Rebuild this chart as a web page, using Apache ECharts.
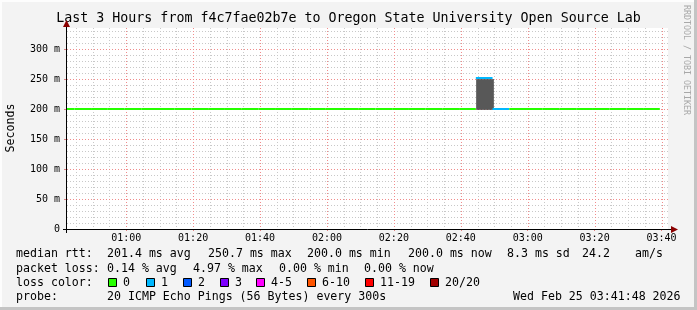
<!DOCTYPE html>
<html><head><meta charset="utf-8">
<script src="https://cdn.jsdelivr.net/npm/echarts@6/dist/echarts.min.js"></script>
<style>html,body{margin:0;padding:0;background:#f3f3f3}#c{width:697px;height:310px}</style>
</head><body><div id="c"></div>
<script>
// ---- data (minutes after midnight; RRD 5-minute steps) ----
const intervalStart = [39.5,44.5,49.5,54.5,59.5,64.5,69.5,74.5,79.5,84.5,89.5,94.5,99.5,104.5,109.5,114.5,119.5,124.5,129.5,134.5,139.5,144.5,149.5,154.5,159.5,164.5,169.5,174.5,179.5,184.5,189.5,194.5,199.5,204.5,209.5,214.5];
const medianMs   = [200,200,200,200,200,200,200,200,200,200,200,200,200,200,200,200,200,200,200,200,200,200,200,200,200,251,200,200,200,200,200,200,200,200,200,200];
const lossCount  = [0,0,0,0,0,0,0,0,0,0,0,0,0,0,0,0,0,0,0,0,0,0,0,0,0,1,1,0,0,0,0,0,0,0,0,0];
const smokeLowMs = [200,200,200,200,200,200,200,200,200,200,200,200,200,200,200,200,200,200,200,200,200,200,200,200,200,200,200,200,200,200,200,200,200,200,200,200];
const smokeHighMs= [200,200,200,200,200,200,200,200,200,200,200,200,200,200,200,200,200,200,200,200,200,200,200,200,200,250,200,200,200,200,200,200,200,200,200,200];
const STEP_MIN = 5;

const xTickMinutes = [60,80,100,120,140,160,180,200,220];
const xTickLabels  = ['01:00','01:20','01:40','02:00','02:20','02:40','03:00','03:20','03:40'];
const xMinorMinutes = [45,50,55,65,70,75,85,90,95,105,110,115,125,130,135,145,150,155,165,170,175,185,190,195,205,210,215];
const yMajorMs = [50,100,150,200,250,300];
const yMinorMs = [10,20,30,40,60,70,80,90,110,120,130,140,160,170,180,190,210,220,230,240,260,270,280,290,310,320,330];
const yTickLabels = {0:'0',50:'50 m',100:'100 m',150:'150 m',200:'200 m',250:'250 m',300:'300 m'};

const lossLegend = ['0','1','2','3','4-5','6-10','11-19','20/20'];
const lossColors = ['#26ff00','#00b8ff','#0059ff','#7e00ff','#ff00ff','#ff5500','#ff0000','#a10000'];
function lossColor(n){ if(n<=0)return lossColors[0]; if(n===1)return lossColors[1]; if(n===2)return lossColors[2]; if(n===3)return lossColors[3]; if(n<=5)return lossColors[4]; if(n<=10)return lossColors[5]; if(n<=19)return lossColors[6]; return lossColors[7]; }

const legendLines = [
  {y:254, parts:[['median rtt:',16],['201.4 ms avg',107],['250.7 ms max',208],['200.0 ms min',307],['200.0 ms now',408],['8.3 ms sd',507],['24.2',582],['am/s',635]]},
  {y:269, parts:[['packet loss:',16],['0.14 % avg',107],['4.97 % max',193],['0.00 % min',279],['0.00 % now',364]]},
  {y:283, parts:[['loss color:',16]]},
  {y:297, parts:[['probe:',16],['20 ICMP Echo Pings (56 Bytes) every 300s',107],['Wed Feb 25 03:41:48 2026',513]]}
];
const lossBoxX = [108,146,183,220,256,307,365,430];

// ---- layout ----
const GL=67, GT=28, GR=668, GB=229;
const FONT='"DejaVu Sans Mono", monospace';
const chart = echarts.init(document.getElementById('c'), null, {renderer:'canvas'});

const graphics = [];
graphics.push({type:'rect',shape:{x:0,y:0,width:697,height:2},style:{fill:'#fdfdfd'},z:-10});
graphics.push({type:'rect',shape:{x:0,y:0,width:2,height:310},style:{fill:'#fdfdfd'},z:-10});
graphics.push({type:'rect',shape:{x:694,y:0,width:3,height:310},style:{fill:'#c4c4c4'},z:-10});
graphics.push({type:'rect',shape:{x:0,y:307,width:697,height:3},style:{fill:'#c4c4c4'},z:-10});
graphics.push({type:'text',x:348.5,y:19,style:{text:'Last 3 Hours from f4c7fae02b7e to Oregon State University Open Source Lab',font:'13.3px '+FONT,fill:'#000',align:'center',verticalAlign:'middle'}});
graphics.push({type:'text',x:11,y:128,rotation:Math.PI/2,style:{text:'Seconds',font:'11.6px '+FONT,fill:'#000',align:'center',verticalAlign:'middle'}});
graphics.push({type:'text',x:686,y:5,rotation:-Math.PI/2,style:{text:'RRDTOOL / TOBI OETIKER',font:'8.3px '+FONT,fill:'#a8a8a8',align:'left',verticalAlign:'middle'}});
graphics.push({type:'line',shape:{x1:63,y1:GB+0.5,x2:GR+4,y2:GB+0.5},style:{stroke:'#000',lineWidth:1},z:50});
graphics.push({type:'line',shape:{x1:GL-0.5,y1:GB+4,x2:GL-0.5,y2:GT-4},style:{stroke:'#000',lineWidth:1},z:50});
graphics.push({type:'polygon',shape:{points:[[GR+10,GB+0.5],[GR+3,GB-3],[GR+3,GB+4]]},style:{fill:'#8b0000'},z:51});
graphics.push({type:'polygon',shape:{points:[[GL-0.5,GT-8],[GL-4,GT-1],[GL+3,GT-1]]},style:{fill:'#8b0000'},z:51});
legendLines.forEach(l=>l.parts.forEach(p=>{
  graphics.push({type:'text',x:p[1],y:l.y,style:{text:p[0],font:'11.6px '+FONT,fill:'#000',align:'left',verticalAlign:'middle'}});
}));
lossLegend.forEach((t,i)=>{
  graphics.push({type:'rect',shape:{x:lossBoxX[i]+0.5,y:283-4.5,width:8,height:8},style:{fill:lossColors[i],stroke:'#000',lineWidth:1}});
  graphics.push({type:'text',x:lossBoxX[i]+15,y:283,style:{text:t,font:'11.6px '+FONT,fill:'#000',align:'left',verticalAlign:'middle'}});
});

function vGrid(color){
  return function(params, api){
    const cs=params.coordSys; const x=Math.round(api.coord([api.value(0),0])[0])+0.5;
    return {type:'line',shape:{x1:x,y1:cs.y,x2:x,y2:cs.y+cs.height},style:{stroke:color,lineWidth:1,lineDash:[1,2]}};
  };
}
function hGrid(color){
  return function(params, api){
    const cs=params.coordSys; const y=Math.round(api.coord([0,api.value(1)])[1])+0.5;
    return {type:'line',shape:{x1:cs.x,y1:y,x2:cs.x+cs.width,y2:y},style:{stroke:color,lineWidth:1,lineDash:[1,2]}};
  };
}

const option = {
  animation:false,
  backgroundColor:'#f3f3f3',
  grid:{left:GL,top:GT,width:GR-GL,height:GB-GT,show:true,backgroundColor:'#ffffff',borderWidth:0},
  xAxis:{type:'value',min:42.3,max:42.3+(GR-GL)/3.3456,
    axisLine:{show:false},splitLine:{show:false},
    axisTick:{show:true,customValues:xTickMinutes,length:2,lineStyle:{color:'#e08080'}},
    axisLabel:{customValues:xTickMinutes,formatter:v=>xTickLabels[xTickMinutes.indexOf(v)]||'',fontFamily:'DejaVu Sans Mono',fontSize:10,color:'#000',margin:4}},
  yAxis:{type:'value',min:0,max:335,interval:50,
    axisLine:{show:false},splitLine:{show:false},
    axisTick:{show:true,length:3,lineStyle:{color:'#e08080'}},
    axisLabel:{formatter:v=>yTickLabels[v]!==undefined?yTickLabels[v]:'',fontFamily:'DejaVu Sans Mono',fontSize:10,color:'#000',margin:7,showMaxLabel:false}},
  graphic:graphics,
  series:[
    {type:'custom',z:1,silent:true,data:xMinorMinutes.map(v=>[v,0]),renderItem:vGrid('#c8c8c8')},
    {type:'custom',z:1,silent:true,data:yMinorMs.map(v=>[GL,v]),renderItem:hGrid('#c8c8c8')},
    {type:'custom',z:1,silent:true,data:xTickMinutes.map(v=>[v,0]),renderItem:vGrid('#f08c8c')},
    {type:'custom',z:1,silent:true,data:yMajorMs.map(v=>[GL,v]),renderItem:hGrid('#f08c8c')},
    {type:'custom',z:3,silent:true,
      data:intervalStart.map((s,i)=>[s,smokeLowMs[i],smokeHighMs[i]]),
      renderItem:function(params,api){
        const s=api.value(0),lo=api.value(1),hi=api.value(2);
        if(hi<=lo) return null;
        const p1=api.coord([s,hi]),p2=api.coord([s+STEP_MIN,lo]);
        return {type:'rect',shape:{x:Math.round(p1[0])+0.5,y:Math.round(p1[1])+0.5,width:Math.round(p2[0]-p1[0]),height:Math.round(p2[1]-p1[1])},style:{fill:'#585858',stroke:'#333',lineWidth:1,lineDash:[1,1]}};
      }},
    {type:'custom',z:4,silent:true,
      data:intervalStart.map((s,i)=>[s,medianMs[i],lossCount[i]]),
      renderItem:function(params,api){
        const s=api.value(0),m=api.value(1),n=api.value(2);
        const cs=params.coordSys;
        const p1=api.coord([s,m]),p2=api.coord([s+STEP_MIN,m]);
        const x1=Math.max(p1[0],cs.x),x2=Math.min(p2[0],cs.x+cs.width);
        if(x2<=x1) return null;
        return {type:'rect',shape:{x:x1,y:Math.round(p1[1])-1,width:x2-x1,height:2},style:{fill:lossColor(n)}};
      }}
  ]
};
chart.setOption(option);
</script></body></html>
